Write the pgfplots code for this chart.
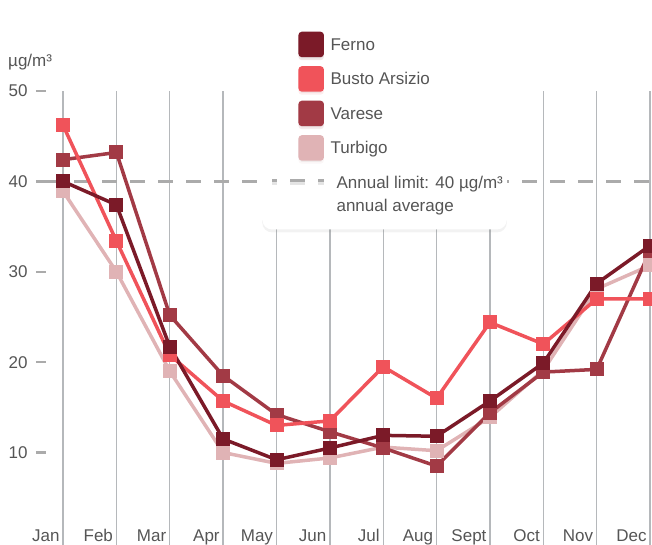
\documentclass[border=0pt]{standalone}
\usepackage{pgfplots}
\pgfplotsset{compat=1.18}
\usepackage{pgfplotstable}
\usepackage{fontspec}
\setmainfont{Liberation Sans}
\usetikzlibrary{shadows}
\definecolor{ferno}{HTML}{7B1A28}
\definecolor{busto}{HTML}{F0535A}
\definecolor{varese}{HTML}{A23A45}
\definecolor{turbigo}{HTML}{E0B3B5}
\definecolor{gridc}{HTML}{B5B8BB}
\definecolor{txt}{HTML}{555555}
\definecolor{limitc}{HTML}{ABABAB}
\pgfdeclareplotmark{rsq}{%
  \pgfsetcornersarced{\pgfpoint{1.8bp}{1.8bp}}%
  \pgfpathrectanglecorners{\pgfpoint{-\pgfplotmarksize}{-\pgfplotmarksize}}{\pgfpoint{\pgfplotmarksize}{\pgfplotmarksize}}%
  \pgfusepathqfill}
\pgfplotstableread{
month ferno busto varese turbigo
0  40.0 46.2 42.4 38.9
1  37.4 33.4 43.2 30.0
2  21.7 20.8 25.2 19.0
3  11.5 15.7 18.5 10.0
4  9.2  13.0 14.2 8.8
5  10.5 13.5 12.3 9.4
6  11.9 19.5 10.5 10.6
7  11.8 16.0 8.5  10.2
8  15.7 24.4 14.4 13.9
9  19.9 22.0 18.9 19.1
10 28.7 27.0 19.2 28.1
11 32.9 27.0 32.3 30.7
}\datatable
\newcommand{\fs}{\fontsize{17bp}{23bp}\selectfont}
\newcommand{\sq}{\fill[rounded corners=2bp] (34bp,-11bp) rectangle (56bp,11bp);}
\begin{document}
\begin{tikzpicture}
\useasboundingbox (0,0) rectangle (652bp,545bp);
\begin{axis}[
  at={(46bp,0bp)}, anchor=south west,
  scale only axis, width=606.7bp, height=454bp,
  xmin=-0.32, xmax=11.05, ymin=-0.23, ymax=50,
  axis line style={draw=none},
  xtick={0,...,11},
  xticklabels={Jan,Feb,Mar,Apr,May,Jun,Jul,Aug,Sept,Oct,Nov,Dec},
  ytick={10,20,30,40,50},
  xmajorgrids,
  major x grid style={gridc, line width=1.4bp},
  xtick style={draw=none},
  ytick style={limitc, line width=2.5bp},
  tick align=outside,
  major tick length=10bp,
  /pgf/number format/assume math mode=true,
  tick label style={font=\fs, text=txt},
  xticklabel style={anchor=base east, yshift=13.5bp},
  yticklabel style={anchor=east, xshift=-5bp},
  ylabel={µg/m³},
  ylabel style={at={(axis description cs:-0.0626,1.0535)}, rotate=-90, anchor=base west, inner sep=0pt, font=\fs, text=txt},
  legend cell align=left,
  legend style={at={(0.356,1.1696)}, anchor=north west, draw=none, fill=white,
    rounded corners=10bp,
    drop shadow={shadow xshift=0bp, shadow yshift=-3bp, opacity=0.10},
    font=\fs, text=txt, inner xsep=4bp, inner ysep=13bp, row sep=0pt,
    nodes={inner xsep=0pt, inner ysep=0pt, text height=23.25bp, text depth=11.25bp}},
  every axis plot/.append style={line width=3.5bp, mark=rsq, mark size=7bp},
]
\addplot[forget plot, limitc, line width=2.5bp, dash pattern=on 15bp off 13bp, mark=none] coordinates {(-0.32,40) (11.05,40)};
\addplot[forget plot, turbigo] table[x=month, y=turbigo] {\datatable};
\addplot[forget plot, varese] table[x=month, y=varese] {\datatable};
\addplot[forget plot, busto] table[x=month, y=busto] {\datatable};
\addplot[forget plot, ferno] table[x=month, y=ferno] {\datatable};
\addlegendimage{ferno, legend image code/.code={\sq}}
\addlegendentry{\hspace*{5bp}Ferno}
\addlegendimage{busto, legend image code/.code={\sq}}
\addlegendentry{\hspace*{5bp}Busto Arsizio}
\addlegendimage{varese, legend image code/.code={\sq}}
\addlegendentry{\hspace*{5bp}Varese}
\addlegendimage{turbigo, legend image code/.code={\sq}}
\addlegendentry{\hspace*{5bp}Turbigo}
\addlegendimage{legend image code/.code={\draw[limitc, line width=2.8bp] (6bp,2bp) -- (11bp,2bp) (24bp,2bp) -- (39bp,2bp) (52bp,2bp) -- (58bp,2bp);}}
\addlegendentry{\hspace*{11bp}Annual limit: 40 µg/m³}
\addlegendimage{empty legend}
\addlegendentry[text height=11.75bp, text depth=5bp]{\hspace*{11bp}annual average}
\end{axis}
\end{tikzpicture}
\end{document}
